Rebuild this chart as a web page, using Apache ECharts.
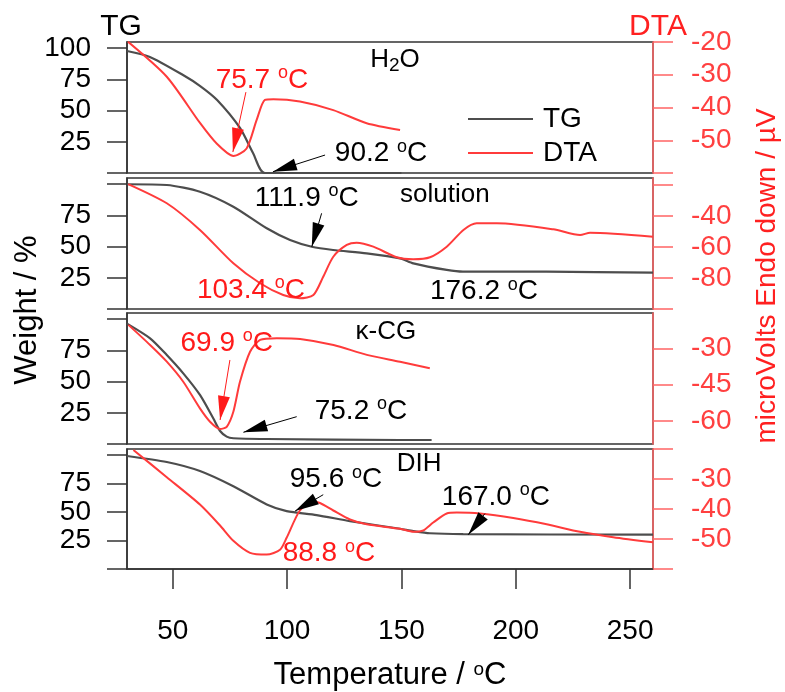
<!DOCTYPE html>
<html>
<head>
<meta charset="utf-8">
<script src="https://cdn.jsdelivr.net/npm/echarts@6/dist/echarts.min.js"></script>
<style>
  html, body { margin: 0; background: #fff; }
  #chart { width: 785px; height: 692px; }
</style>
</head>
<body>
<div id="chart"></div>
<script>
// temperature axis
const xTicks = [50, 100, 150, 200, 250];
// TG axis ticks / labels
const tgTicks = [0, 25, 50, 75, 100];
const tgLabelsTop = [25, 50, 75, 100];
const tgLabels = [25, 50, 75];
// DTA axis ticks / labels per panel
const dtaTicks1 = [-60, -50, -40, -30, -20];
const dtaLabels1 = [-50, -40, -30, -20];
const dtaTicks2 = [-100, -80, -60, -40, -20];
const dtaLabels2 = [-80, -60, -40];
const dtaTicks3 = [-60, -45, -30, -15];
const dtaLabels3 = [-60, -45, -30];
const dtaTicks4 = [-60, -50, -40, -30, -20];
const dtaLabels4 = [-50, -40, -30];

// panel names
const panelNames = ['H{sub|2}O', 'solution', 'κ-CG', 'DIH'];

// [temperature, weight %]
const h2oTG = [[30, 97.8], [40, 93], [54.5, 78.5], [62, 69.7], [69.4, 58.5], [79.4, 36.1], [85.1, 16], [90.3, 0], [150, 0]];
const solTG = [[30, 100], [47.4, 99.4], [61.9, 94], [76.5, 82], [91.1, 64.7], [101.3, 55.3], [110.8, 49.9], [120.1, 47.3], [134.8, 44.6], [149.4, 40.6], [155.2, 36.6], [169.8, 31.3], [176.9, 29.9], [213.5, 29.9], [260, 29.1]];
const kcgTG = [[30, 96.5], [40.1, 84.7], [47.4, 71.3], [54.6, 56.6], [61.9, 39.3], [67.7, 20.6], [70.7, 10.4], [73.6, 5.9], [76.5, 4.6], [91.1, 4], [149.4, 3.2], [163.2, 3.2]];
const dihTG = [[30, 98.9], [47.4, 93.6], [61.9, 85.7], [76.5, 72.4], [91.1, 56.5], [99.8, 50.7], [112.9, 47.2], [127.5, 41.9], [149.4, 35.2], [155.2, 33.2], [162.4, 31.3], [177, 30.5], [260, 30]];

// [temperature, microVolts]
const h2oDTA = [[30.4, -19.9], [47.4, -30.6], [62, -44.8], [69.2, -51], [76.5, -54.8], [82.3, -52.5], [86.7, -43.8], [90.3, -37.7], [94, -37.5], [105.6, -38.2], [120.2, -40.8], [134.8, -44.8], [149.4, -46.9]];
const solDTA = [[30.5, -19.4], [47.4, -31.8], [61.9, -49], [76.5, -70.5], [88.2, -83.4], [98.3, -91], [105.6, -93.1], [111.5, -91], [115.8, -79.2], [120.2, -66.3], [126.1, -58.7], [130.4, -57.2], [137.7, -59.8], [147.9, -66.6], [155.2, -67.9], [162.5, -66.6], [169.8, -59.8], [177.1, -49], [182.9, -44.7], [191.7, -44.7], [216.4, -48.6], [228.1, -52.3], [232.5, -50.8], [260, -53.4]];
const kcgDTA = [[30.6, -20.3], [40.1, -28.6], [47.4, -35.5], [54.6, -43.8], [61.9, -54.8], [66.3, -60.3], [70.7, -63.3], [73.6, -62.4], [76.5, -56.2], [79.4, -43.8], [83.8, -31.4], [88.2, -26.5], [95.5, -25.8], [105.7, -26.1], [120.3, -28.6], [134.9, -32.7], [149.4, -35.5], [162.4, -38.2]];
const dihDTA = [[32.8, -20.3], [47.4, -29.4], [61.9, -38.5], [70.7, -45.5], [76.5, -50.6], [83.8, -54.6], [91.1, -55.2], [96.9, -53.6], [99.8, -49.6], [105.6, -40.5], [111.5, -37.5], [114.4, -38], [120.2, -40.5], [127.5, -43.5], [134.8, -45.1], [149.4, -46.6], [155.2, -47.6], [159.6, -47.1], [163.9, -44.5], [169.8, -41.5], [174.2, -41.2], [184.3, -41.5], [198.9, -43], [213.5, -45.1], [228.1, -47.6], [242.6, -49.4], [260, -51.1]];

// annotations: [temperature, value, text]
const h2oTGNotes = [[141.1, 16.0, '90.2 °C']];
const h2oDTANotes = [[89.0, -31.6, '75.7 °C']];
const solTGNotes = [[108.6, 89, '111.9 °C'], [186.1, 13.9, '176.2 °C']];
const solDTANotes = [[84.2, -87.7, '103.4 °C']];
const kcgTGNotes = [[132.3, 26.5, '75.2 °C']];
const kcgDTANotes = [[73.6, -27.8, '69.9 °C']];
const dihTGNotes = [[121.4, 78.4, '95.6 °C'], [191.3, 63.1, '167.0 °C']];
const dihDTANotes = [[118.3, -54.8, '88.8 °C']];
// panel name positions [temperature, weight]
const nameSpots = [[147.2, 90.6], [169, 91.4], [143.2, 89.8], [157.7, 92.3]];

// arrows: [fromT, fromV, toT, toV]
const h2oTGArrows = [[116.6, 14.4, 93.8, 1.0]];
const h2oDTAArrows = [[82.0, -35.3, 76.3, -53.6]];
const solTGArrows = [[115.1, 76.7, 110.8, 49.9]];
const kcgTGArrows = [[104.2, 21.9, 80.9, 9.4]];
const kcgDTAArrows = [[75.0, -34.8, 70.7, -59.6]];
const dihTGArrows = [[115.8, 65, 103.5, 50.7], [186.5, 48.5, 179.2, 30]];

const FONT = '"Liberation Sans", Arial, sans-serif';
const BLACK = '#000';
const GREY = '#4d4d4d';
const RED = '#ff3b3b';
const AXRED = '#ff6464';
const ARROW = 'path://M5,0 M5,24 L10,48 L0,48 Z';

const gridTops = [42, 178, 313, 449];
const gridHeights = [131, 131, 131, 132];

const chart = echarts.init(document.getElementById('chart'));

function degRich(t) { return t.replace('°', '{o|o}'); }

const richDeg = (color) => ({
  o: { fontSize: 18, lineHeight: 18, verticalAlign: 'top', color: color, fontFamily: FONT }
});

function notes(list, color) {
  return {
    symbol: 'circle', symbolSize: 1, silent: true,
    itemStyle: { color: 'rgba(0,0,0,0)' },
    label: {
      show: true, position: 'inside', color: color, fontSize: 28, lineHeight: 31,
      fontFamily: FONT, rich: richDeg(color)
    },
    data: list.map(n => ({ coord: [n[0], n[1]], label: { formatter: degRich(n[2]) } }))
  };
}

function arrows(list, color) {
  return {
    silent: true, symbol: ['none', 'none'],
    lineStyle: { color: color, width: 1, type: 'solid' },
    label: { show: false },
    emphasis: { disabled: true },
    data: list.map(a => [
      { coord: [a[0], a[1]], symbol: 'none' },
      { coord: [a[2], a[3]], symbol: ARROW, symbolSize: [12, 48], itemStyle: { color: color } }
    ])
  };
}

const grids = gridTops.map((t, i) => ({
  left: 127, right: 132, top: t, height: gridHeights[i],
  show: true, borderColor: '#333', borderWidth: 1.5, backgroundColor: 'transparent'
}));

const xAxes = gridTops.map((t, i) => {
  const last = i === gridTops.length - 1;
  return {
    type: 'value', gridIndex: i, min: 30, max: 260,
    show: last,
    splitLine: { show: false },
    axisLine: { show: true, onZero: false, lineStyle: { color: '#333', width: 1.5 } },
    axisTick: { show: true, inside: false, length: 20, customValues: xTicks, lineStyle: { color: '#333', width: 1.5 } },
    axisLabel: { customValues: xTicks, fontSize: 28, margin: 48, color: BLACK, fontFamily: FONT },
    name: last ? 'Temperature / {o|o}C' : '',
    nameLocation: 'middle', nameGap: 91,
    nameTextStyle: { fontSize: 31, color: BLACK, fontFamily: FONT, rich: { o: { fontSize: 19, lineHeight: 19, verticalAlign: 'top', color: BLACK } } }
  };
});

const dtaAxisDefs = [
  [-60, -20, dtaTicks1, dtaLabels1],
  [-100, -15.5, dtaTicks2, dtaLabels2],
  [-69.5, -15.4, dtaTicks3, dtaLabels3],
  [-60, -20, dtaTicks4, dtaLabels4]
];

const yAxes = [];
gridTops.forEach((t, i) => {
  yAxes.push({
    type: 'value', gridIndex: i, position: 'left', min: 0, max: 105,
    splitLine: { show: false },
    axisLine: { show: true, onZero: false, lineStyle: { color: '#333', width: 1.5 } },
    axisTick: { show: true, inside: false, length: 20, customValues: tgTicks, lineStyle: { color: '#333', width: 1.5 } },
    axisLabel: { customValues: i === 0 ? tgLabelsTop : tgLabels, fontSize: 28, margin: 36, color: BLACK, fontFamily: FONT }
  });
  const d = dtaAxisDefs[i];
  yAxes.push({
    type: 'value', gridIndex: i, position: 'right', min: d[0], max: d[1],
    splitLine: { show: false },
    axisLine: { show: true, onZero: false, lineStyle: { color: AXRED, width: 1.5 } },
    axisTick: { show: true, inside: false, length: 20, customValues: d[2], lineStyle: { color: AXRED, width: 1.5 } },
    axisLabel: { customValues: d[3], fontSize: 28, margin: 38, color: '#ff4040', fontFamily: FONT }
  });
});

const tgSets = [h2oTG, solTG, kcgTG, dihTG];
const dtaSets = [h2oDTA, solDTA, kcgDTA, dihDTA];
const tgNoteSets = [h2oTGNotes, solTGNotes, kcgTGNotes, dihTGNotes];
const dtaNoteSets = [h2oDTANotes, solDTANotes, kcgDTANotes, dihDTANotes];
const tgArrowSets = [h2oTGArrows, solTGArrows, kcgTGArrows, dihTGArrows];
const dtaArrowSets = [h2oDTAArrows, [], kcgDTAArrows, []];

const series = [];
gridTops.forEach((t, i) => {
  const tgNotes = notes(tgNoteSets[i], BLACK);
  // panel name goes with the TG notes
  tgNotes.data.push({
    coord: nameSpots[i],
    label: {
      formatter: panelNames[i], fontSize: 26, color: BLACK,
      rich: { sub: { fontSize: 19, lineHeight: 20, verticalAlign: 'bottom', color: BLACK } }
    }
  });
  series.push({
    name: 'TG', type: 'line', xAxisIndex: i, yAxisIndex: 2 * i,
    data: tgSets[i], symbol: 'none', smooth: 0.25,
    lineStyle: { color: GREY, width: 2.2 }, itemStyle: { color: GREY },
    markPoint: tgNotes,
    markLine: arrows(tgArrowSets[i], BLACK),
    z: 3
  });
  series.push({
    name: 'DTA', type: 'line', xAxisIndex: i, yAxisIndex: 2 * i + 1,
    data: dtaSets[i], symbol: 'none', smooth: 0.25,
    lineStyle: { color: RED, width: 2 }, itemStyle: { color: RED },
    markPoint: notes(dtaNoteSets[i], '#ff1a1a'),
    markLine: arrows(dtaArrowSets[i], '#ff1a1a'),
    z: 4
  });
});

chart.setOption({
  animation: false,
  textStyle: { fontFamily: FONT },
  grid: grids,
  xAxis: xAxes,
  yAxis: yAxes,
  legend: {
    data: ['TG', 'DTA'], orient: 'vertical', left: 463, top: 100,
    icon: 'rect', itemWidth: 65, itemHeight: 2, itemGap: 6,
    textStyle: { fontSize: 28, color: BLACK, fontFamily: FONT, padding: [0, 0, 0, 5] }
  },
  graphic: [
    { type: 'text', x: 121, y: 27, style: { text: 'TG', font: '30px ' + FONT, fill: BLACK, textAlign: 'center', textVerticalAlign: 'middle' } },
    { type: 'text', x: 658, y: 27, style: { text: 'DTA', font: '30px ' + FONT, fill: '#ff2020', textAlign: 'center', textVerticalAlign: 'middle' } },
    { type: 'text', x: 27, y: 310, rotation: Math.PI / 2, style: { text: 'Weight / %', font: '31px ' + FONT, fill: BLACK, textAlign: 'center', textVerticalAlign: 'middle' } },
    { type: 'text', x: 767, y: 276, rotation: Math.PI / 2, style: { text: 'microVolts Endo down / µV', font: '28px ' + FONT, fill: '#ff2020', textAlign: 'center', textVerticalAlign: 'middle' } }
  ],
  series: series
});
</script>
</body>
</html>
